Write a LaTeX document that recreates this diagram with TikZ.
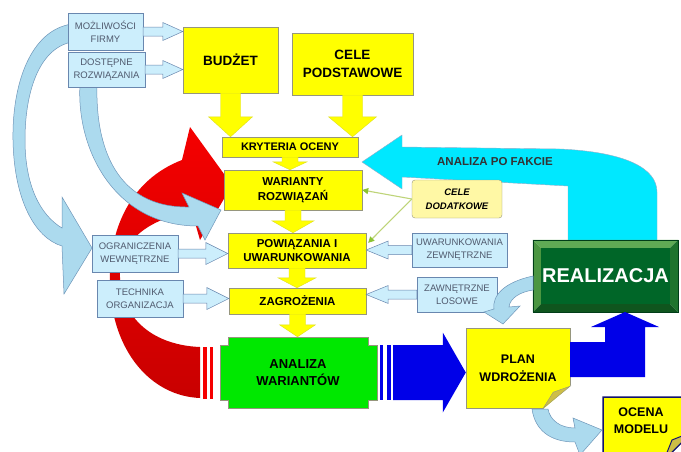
\documentclass[tikz,border=0pt]{standalone}
\usepackage{fontspec}
\setmainfont{Liberation Sans}
\usetikzlibrary{arrows.meta,calc}

\definecolor{boxyellow}{RGB}{255,255,0}
\definecolor{boxedge}{RGB}{150,150,125}
\definecolor{paleblue}{RGB}{204,238,252}
\definecolor{steel}{RGB}{105,135,175}
\definecolor{curveblue}{RGB}{172,218,238}
\definecolor{curveedge}{RGB}{110,150,185}
\definecolor{arrowred}{RGB}{245,0,0}
\definecolor{bargreen}{RGB}{0,232,0}
\definecolor{arrowblue}{RGB}{0,0,232}
\definecolor{factcyan}{RGB}{0,232,255}
\definecolor{realgreen}{RGB}{0,102,40}
\definecolor{bevtop}{RGB}{95,170,85}
\definecolor{bevleft}{RGB}{75,150,65}
\definecolor{bevright}{RGB}{30,115,45}
\definecolor{bevbottom}{RGB}{15,85,30}
\definecolor{notecream}{RGB}{255,248,165}
\definecolor{twigreen}{RGB}{190,212,120}
\definecolor{tipgreen}{RGB}{140,195,50}
\definecolor{navy}{RGB}{20,20,110}
\definecolor{labelgray}{RGB}{80,90,110}
\definecolor{foldolive}{RGB}{205,190,70}

\tikzset{
  ybox/.style={draw=boxedge, fill=boxyellow, align=center, inner sep=0pt},
  bbox/.style={draw=steel, fill=paleblue, text=labelgray, align=center, inner sep=0pt,
    font=\fontsize{9.5}{13}\selectfont},
  curvy/.style={fill=curveblue, draw=curveedge, line width=0.5pt},
  yarrow/.style={fill=boxyellow, draw=boxyellow!75!gray, line width=0.4pt},
  larrow/.style={fill=paleblue, draw=steel, line width=0.5pt},
  twig/.style={draw=twigreen, line width=1.1pt, -{Triangle[length=6pt,width=6pt,color=tipgreen]}},
  bat/.style={shift={(\p1)}, rotate=\n1},
  barrow/.style n args={3}{to path={
    let \p1=(\tikztostart), \p2=(\tikztotarget),
        \n1={atan2(\y2-\y1,\x2-\x1)}, \n2={veclen(\x2-\x1,\y2-\y1)} in
    ([bat]0,#1) -- ([bat]\n2-#3,#1) -- ([bat]\n2-#3,#2) -- ([bat]\n2,0)
    -- ([bat]\n2-#3,-#2) -- ([bat]\n2-#3,-#1) -- ([bat]0,-#1) -- cycle}},
}

\begin{document}
\begin{tikzpicture}[x=1pt, y=-1pt]
\useasboundingbox (0,0) rectangle (681,451);
\fill[white] (0,0) rectangle (681,451);
\clip (0,0) rectangle (681,451);

% Red loop arrow
\shade[top color=arrowred, middle color=arrowred, bottom color=arrowred!82!black]
  (200,347) .. controls (150,345) and (118,315) .. (120,270)
  .. controls (122,240) and (150,218) .. (192,212) -- (200,240) -- (232,185)
  -- (190,127) -- (182,160) .. controls (130,180) and (108,230) .. (110,285)
  .. controls (112,350) and (150,396) .. (200,398) -- cycle;

% Curved arrows from the top boxes
\draw[curvy] (72,24) .. controls (30,30) and (12,85) .. (13,140)
  .. controls (14,200) and (35,238) .. (62,246) -- (64,294) -- (92,248) -- (62,197)
  -- (62,228) .. controls (40,215) and (25,185) .. (25,140)
  .. controls (25,90) and (40,48) .. (72,42) -- cycle;
\draw[curvy] (80,84) .. controls (76,150) and (115,226) .. (198,226) -- (205,240)
  -- (221,210) -- (182,193) -- (189,207) .. controls (125,208) and (95,160) .. (97,84) -- cycle;

% Analiza po fakcie
\draw[fill=factcyan, draw=steel!70] (402,147) -- (560,149)
  .. controls (625,152) and (657,168) .. (657,192) -- (657,245) -- (568,245)
  -- (568,186) -- (402,177) -- (402,189) -- (362,162) -- (402,135) -- cycle;

% Notched box and model box
\draw[fill=bargreen, draw=boxedge] (228,337) -- (368,337) -- (368,345) -- (377,345)
  -- (377,400) -- (368,400) -- (368,408) -- (228,408) -- (228,400) -- (220,400)
  -- (220,345) -- (228,345) -- cycle;
\draw[fill=boxyellow, draw=navy, line width=1.5pt] (603,397) -- (692,397) -- (692,432)
  -- (664,460) -- (603,460) -- cycle;
\draw[fill=foldolive, draw=navy, line width=1pt] (664,460) -- (692,432) -- (672,440) -- cycle;

% Boxes
\node[bbox, minimum width=75, minimum height=37] (mozl) at (105.5,31.5) {MOŻLIWOŚCI\\FIRMY};
\node[bbox, minimum width=77, minimum height=35] (dost) at (106.5,69.5) {DOSTĘPNE\\ROZWIĄZANIA};
\node[bbox, minimum width=86, minimum height=37] (ogr) at (135,253.5) {OGRANICZENIA\\WEWNĘTRZNE};
\node[bbox, minimum width=86, minimum height=37] (tech) at (140,298.5) {TECHNIKA\\ORGANIZACJA};
\node[bbox, minimum width=95, minimum height=34] (uwar) at (459.5,250) {UWARUNKOWANIA\\ZEWNĘTRZNE};
\node[bbox, minimum width=80, minimum height=35] (zewn) at (457,294.5) {ZAWNĘTRZNE\\LOSOWE};

\node[ybox, minimum width=95, minimum height=66, font=\bfseries\fontsize{13.5}{18}\selectfont]
  (budzet) at (230.5,60) {BUDŻET};
\node[ybox, minimum width=121, minimum height=62, font=\bfseries\fontsize{13.5}{18}\selectfont]
  (cele) at (352.5,64) {CELE\\PODSTAWOWE};
\node[ybox, minimum width=136, minimum height=20, font=\bfseries\fontsize{11}{13}\selectfont]
  (kryt) at (290,147) {KRYTERIA OCENY};
\node[ybox, minimum width=138, minimum height=40, font=\bfseries\fontsize{11.5}{15}\selectfont]
  (war) at (293,190) {WARIANTY\\ROZWIĄZAŃ};
\node[ybox, minimum width=138, minimum height=35, font=\bfseries\fontsize{11.5}{13.5}\selectfont]
  (pow) at (297,250.5) {POWIĄZANIA I\\UWARUNKOWANIA};
\node[ybox, minimum width=137, minimum height=26, font=\bfseries\fontsize{11.5}{13}\selectfont]
  (zag) at (297.5,301) {ZAGROŻENIA};
\node[align=center, inner sep=0pt, minimum width=140, minimum height=71,
  font=\bfseries\fontsize{13}{17}\selectfont] (analiza) at (298,372.5) {ANALIZA\\WARIANTÓW};
\node[ybox, minimum width=104, minimum height=80, font=\bfseries\fontsize{12.5}{18}\selectfont]
  (plan) at (518,368) {PLAN\\WDROŻENIA};
\node[align=center, inner sep=0pt, font=\bfseries\fontsize{12.5}{17}\selectfont]
  (ocena) at (641,421) {OCENA\\MODELU};
\node[fill=realgreen, text=white, inner sep=0pt, minimum width=129, minimum height=56,
  font=\bfseries\fontsize{20}{22}\selectfont] (real) at (605.5,276) {REALIZACJA};
\node[draw=boxedge, fill=notecream, rounded corners=3pt, align=center, inner sep=0pt,
  minimum width=90, minimum height=38, font=\bfseries\itshape\fontsize{9.5}{14}\selectfont]
  (dod) at (457,199) {CELE\\DODATKOWE};
\node[text=black!80, font=\bfseries\fontsize{11.5}{13}\selectfont] (fakt) at (495,162) {ANALIZA PO FAKCIE};

% Realizacja bevel
\fill[bevtop] ($(real.north west)+(-8,-8)$) -- ($(real.north east)+(8,-8)$) -- (real.north east) -- (real.north west) -- cycle;
\fill[bevleft] ($(real.north west)+(-8,-8)$) -- (real.north west) -- (real.south west) -- ($(real.south west)+(-8,8)$) -- cycle;
\fill[bevright] ($(real.north east)+(8,-8)$) -- (real.north east) -- (real.south east) -- ($(real.south east)+(8,8)$) -- cycle;
\fill[bevbottom] ($(real.south west)+(-8,8)$) -- (real.south west) -- (real.south east) -- ($(real.south east)+(8,8)$) -- cycle;
\draw[realgreen!60!black] ($(real.north west)+(-8,-8)$) rectangle ($(real.south east)+(8,8)$);

% Plan note fold
\fill[white] ($(plan.south east)+(-27,1)$) -- ($(plan.south east)+(1,1)$) -- ($(plan.south east)+(1,-23)$) -- cycle;
\draw[boxedge, fill=foldolive] ($(plan.south east)+(-27,0)$) -- ($(plan.south east)+(0,-22)$)
  -- ($(plan.south east)+(-17,-16)$) -- cycle;

% Yellow flow arrows
\draw[yarrow] (budzet.south) to[barrow={10}{22}{20}] (budzet.south |- kryt.north);
\draw[yarrow] (cele.south) to[barrow={10}{24}{20}] (cele.south |- kryt.north);
\draw[yarrow] (kryt.south) to[barrow={8}{17}{8}] (kryt.south |- war.north);
\draw[yarrow] (war.south) to[barrow={8}{21}{12}] (war.south |- pow.north);
\draw[yarrow] (pow.south) to[barrow={8}{19}{10}] (pow.south |- zag.north);
\draw[yarrow] (zag.south) to[barrow={8}{18}{12}] (zag.south |- analiza.north);

% Side arrows
\draw[larrow] (mozl.east) to[barrow={4.5}{9}{20}] (budzet.west |- mozl.east);
\draw[larrow] (dost.east) to[barrow={4.5}{9}{20}] (budzet.west |- dost.east);
\draw[larrow] (ogr.east) to[barrow={4.5}{11}{22}] (pow.west |- ogr.east);
\draw[larrow] (tech.east) to[barrow={4.5}{11}{22}] (zag.west |- tech.east);
\draw[larrow] (uwar.west) to[barrow={4.5}{9}{22}] (pow.east |- uwar.west);
\draw[larrow] (zewn.west) to[barrow={4.5}{9}{22}] (zag.east |- zewn.west);
\draw[twig] (dod.west) -- (war.east);
\draw[twig] (dod.west) -- ($(pow.north east)+(2,10)$);

% Striped blue arrow
\fill[arrowred] ($(analiza.west)+(-25,-26)$) rectangle +(4,52);
\fill[arrowred] ($(analiza.west)+(-18,-26)$) rectangle +(3,52);
\fill[arrowblue] ($(analiza.east)+(12,-27.5)$) rectangle +(3,55);
\fill[arrowblue] ($(analiza.east)+(19,-27.5)$) rectangle +(4,55);
\fill[arrowblue] ($(analiza.east)+(25,0)$) to[barrow={27.5}{40}{23}] (plan.west |- analiza.east);

% Plan -> realizacja
\fill[arrowblue] ($(plan.east)+(0,-26)$) -- (605,342) -- (605,327) -- (591,327)
  -- (625,312) -- (659,327) -- (645,327) -- (645,377) -- ($(plan.east)+(0,9)$) -- cycle;

% Small curved arrows
\draw[curvy] (533,276) .. controls (505,282) and (492,295) .. (494,309) -- (484,312)
  -- (503,324) -- (520,306) -- (509,307) .. controls (510,298) and (520,292) .. (533,290) -- cycle;
\draw[curvy] (532,409) .. controls (535,430) and (550,442) .. (575,442) -- (580,455)
  -- (602,430) -- (573,418) -- (575,428) .. controls (560,428) and (550,420) .. (548,409) -- cycle;
\end{tikzpicture}
\end{document}
